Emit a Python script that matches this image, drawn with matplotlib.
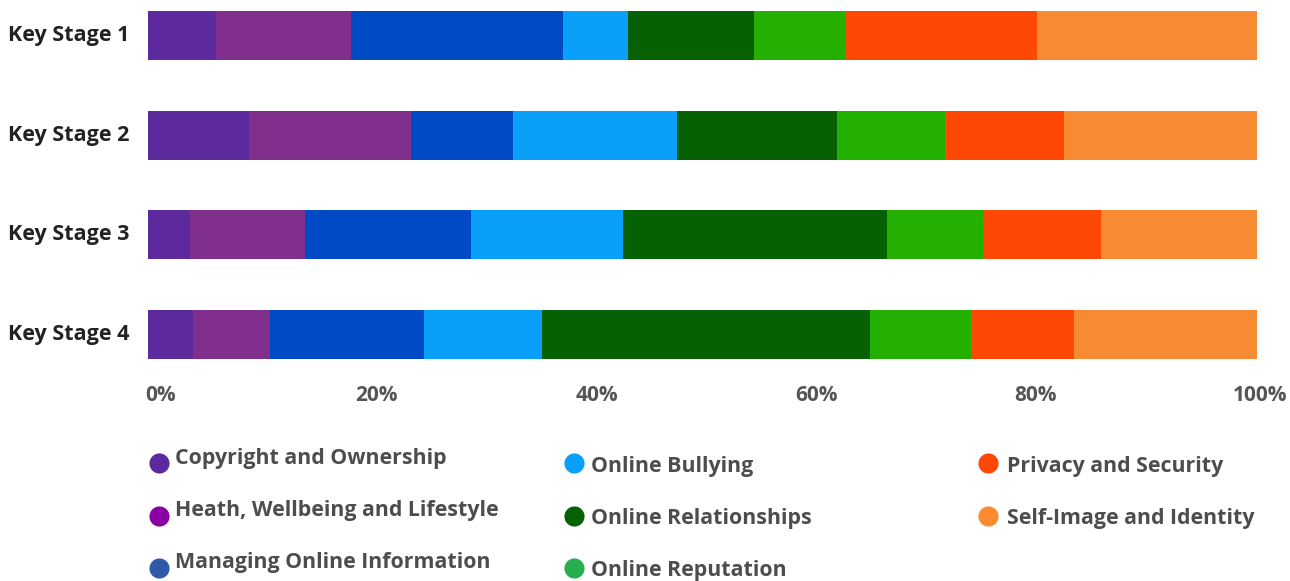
import matplotlib
matplotlib.use("Agg")
import matplotlib.pyplot as plt
import matplotlib.transforms as mtransforms
from matplotlib.lines import Line2D
import numpy as np

# Share of lessons per topic, by key stage (percent of total)
stages = ["Key Stage 1", "Key Stage 2", "Key Stage 3", "Key Stage 4"]
topics = [
    "Copyright and Ownership",
    "Heath, Wellbeing and Lifestyle",
    "Managing Online Information",
    "Online Bullying",
    "Online Relationships",
    "Online Reputation",
    "Privacy and Security",
    "Self-Image and Identity",
]
copyright_own = [6.13, 9.11, 3.79, 4.06]
health_wellbeing = [12.17, 14.61, 10.37, 6.94]
managing_info = [19.12, 9.20, 14.97, 13.89]
online_bullying = [5.86, 14.79, 13.71, 10.64]
online_relationships = [11.36, 14.43, 23.81, 29.58]
online_reputation = [8.21, 9.74, 8.66, 9.11]
privacy_security = [17.31, 10.73, 10.64, 9.29]
self_image = [19.84, 17.40, 14.07, 16.50]

series = [copyright_own, health_wellbeing, managing_info, online_bullying,
          online_relationships, online_reputation, privacy_security, self_image]

bar_colors = ["#5c2a9d", "#80308c", "#004ac6", "#0a9ff8",
              "#056104", "#24b003", "#fd4806", "#f78b33"]
marker_colors = ["#5c2a9d", "#8b00a6", "#2f5aa8", "#0a9ff8",
                 "#056104", "#27ae4f", "#fd4806", "#fd8a2e"]

tick_values = [0, 20, 40, 60, 80, 100]
tick_labels = ["0%", "20%", "40%", "60%", "80%", "100%"]

plt.rcParams["font.family"] = ["Open Sans", "DejaVu Sans"]
plt.rcParams["font.weight"] = "bold"

W, H = 1290, 581
fig = plt.figure(figsize=(W / 100, H / 100), dpi=100)
ax = fig.add_axes([148 / W, 1 - 384.4 / H, (1257 - 148) / W, 383.8 / H])


def px_shift(dx, dy):
    return mtransforms.ScaledTranslation(dx / 100, -dy / 100, fig.dpi_scale_trans)


y = np.arange(len(stages))
left = np.zeros(len(stages))
for vals, col, name in zip(series, bar_colors, topics):
    vals = np.asarray(vals)
    ax.barh(y, vals, left=left, height=0.49, color=col, label=name,
            linewidth=0)
    left += vals

ax.set_xlim(0, 100)
ax.set_ylim(3.5, -0.35)
for s in ax.spines.values():
    s.set_visible(False)

ax.set_yticks(y)
ax.set_yticklabels(stages, fontsize=15.5, fontweight="bold", color="#222222")
ax.tick_params(axis="y", length=0, pad=13.5)
for lab in ax.get_yticklabels():
    lab.set_transform(lab.get_transform() + px_shift(0, -2.5))

ax.set_xticks(tick_values)
ax.set_xticklabels(tick_labels, fontsize=15, fontweight="bold", color="#555555")
ax.tick_params(axis="x", length=0, pad=1)
x_nudge = [-3, 7, 5, 3, 0, 3]
for lab, dx in zip(ax.get_xticklabels(), x_nudge):
    lab.set_transform(lab.get_transform() + px_shift(dx, -1))
ax.get_xticklabels()[0].set_horizontalalignment("left")

# Legend drawn in three columns beneath the bars
cols_x = [(159, 175), (574, 591), (988, 1007)]
marker_rows = [463, 516, 568]
baseline_rows = [[464, 516, 568], [472, 524, 576], [472, 524, 576]]
for i, (name, mc) in enumerate(zip(topics, marker_colors)):
    c, r = divmod(i, 3)
    mx, tx = cols_x[c]
    my = marker_rows[r]
    fig.add_artist(Line2D([mx / W], [1 - my / H], marker="o", markersize=14.5,
                          color=mc, markeredgewidth=0, linestyle="none",
                          transform=fig.transFigure))
    fig.text(tx / W, 1 - baseline_rows[c][r] / H, name, fontsize=15.4,
             fontweight="bold", color="#4d4d4d", ha="left", va="baseline")

fig.savefig("out.png", dpi=100)
